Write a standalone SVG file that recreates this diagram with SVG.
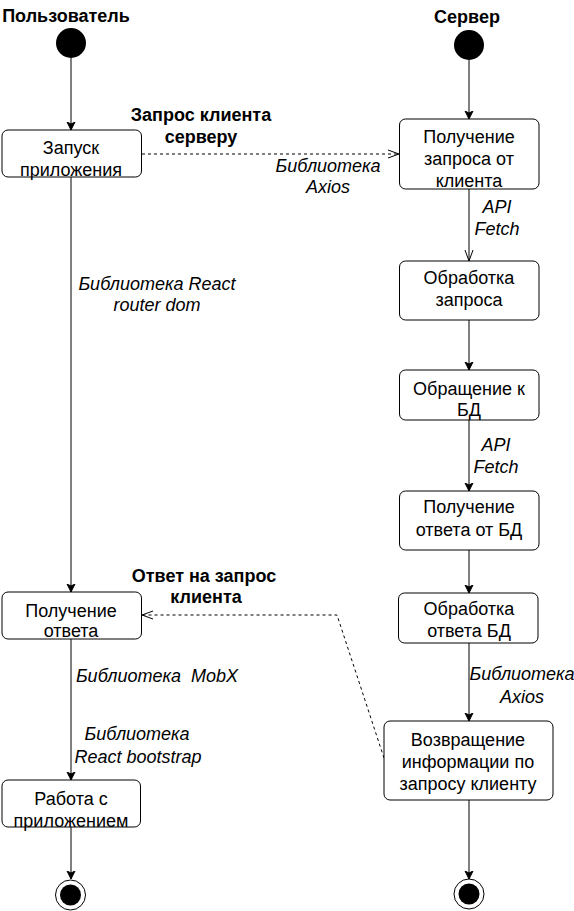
<svg xmlns="http://www.w3.org/2000/svg" width="574" height="911" viewBox="0 0 574 911">
<defs>
<style>
.box{fill:#fff;stroke:#000;stroke-width:1}
.t{font-family:"Liberation Sans",Arial,sans-serif;font-size:18px;fill:#000;text-anchor:middle}
.b{font-weight:bold}
.i{font-style:italic}
.c{fill:none;stroke:#000;stroke-width:1}
.d{stroke-dasharray:3 3}
</style>
<marker id="fa" markerWidth="10" markerHeight="10" refX="8" refY="5" orient="auto" markerUnits="userSpaceOnUse">
<path d="M0,1 L8,5 L0,9 L2,5 Z" fill="#000" stroke="#000" stroke-width="1"/>
</marker>
<marker id="oa" markerWidth="12" markerHeight="12" refX="11" refY="6" orient="auto" markerUnits="userSpaceOnUse">
<path d="M0,2 L11,6 L0,10" fill="none" stroke="#000" stroke-width="1"/>
</marker>
</defs>
<rect width="574" height="911" fill="#fff"/>

<g id="lane-titles">
<text class="t b" x="66" y="22">Пользователь</text>
<text class="t b" x="467" y="23">Сервер</text>
</g>

<g id="connectors">
<line class="c" x1="71" y1="58" x2="71" y2="130" marker-end="url(#fa)"/>
<line class="c" x1="71" y1="177" x2="71" y2="592" marker-end="url(#fa)"/>
<line class="c" x1="71" y1="639" x2="71" y2="780" marker-end="url(#fa)"/>
<line class="c" x1="71" y1="827" x2="71" y2="879" marker-end="url(#fa)"/>
<line class="c d" x1="142" y1="154" x2="399" y2="154" marker-end="url(#oa)"/>
<line class="c" x1="469" y1="60" x2="469" y2="119" marker-end="url(#fa)"/>
<line class="c" x1="469" y1="189" x2="469" y2="261" marker-end="url(#oa)"/>
<line class="c" x1="469" y1="320" x2="469" y2="370" marker-end="url(#fa)"/>
<line class="c" x1="469" y1="420" x2="469" y2="491" marker-end="url(#fa)"/>
<line class="c" x1="469" y1="550" x2="469" y2="593" marker-end="url(#fa)"/>
<line class="c" x1="469" y1="643" x2="469" y2="721" marker-end="url(#fa)"/>
<line class="c" x1="469" y1="800" x2="469" y2="879" marker-end="url(#fa)"/>
<polyline class="c d" points="384,758 337,615 142,615" marker-end="url(#oa)"/>
</g>

<g id="edge-labels">
<text class="t b" x="201" y="121">Запрос клиента</text>
<text class="t b" x="201" y="143">серверу</text>
<text class="t i" x="328" y="172">Библиотека</text>
<text class="t i" x="328" y="193">Axios</text>
<text class="t i" x="497" y="213">API</text>
<text class="t i" x="497" y="235">Fetch</text>
<text class="t i" x="157" y="290">Библиотека React</text>
<text class="t i" x="157" y="311">router dom</text>
<text class="t i" x="496" y="451">API</text>
<text class="t i" x="496" y="473">Fetch</text>
<text class="t b" x="204" y="582">Ответ на запрос</text>
<text class="t b" x="206" y="603">клиента</text>
<text class="t i" x="157" y="682" xml:space="preserve">Библиотека  MobX</text>
<text class="t i" x="522" y="680">Библиотека</text>
<text class="t i" x="522" y="703">Axios</text>
<text class="t i" x="137" y="740">Библиотека</text>
<text class="t i" x="138" y="763">React bootstrap</text>
</g>

<g id="start-user"><circle cx="71" cy="43" r="15" fill="#000"/></g>
<g id="start-server"><circle cx="469" cy="45" r="15" fill="#000"/></g>

<g id="launch">
<rect class="box" x="2" y="130" width="139.5" height="47" rx="6"/>
<text class="t" x="71" y="154">Запуск</text>
<text class="t" x="71" y="176">приложения</text>
</g>

<g id="get-request">
<rect class="box" x="399.5" y="119" width="139.5" height="70" rx="6"/>
<text class="t" x="469" y="143">Получение</text>
<text class="t" x="469" y="165">запроса от</text>
<text class="t" x="469" y="187">клиента</text>
</g>

<g id="process-request">
<rect class="box" x="399.5" y="261" width="139.5" height="59" rx="6"/>
<text class="t" x="469" y="284">Обработка</text>
<text class="t" x="469" y="306">запроса</text>
</g>

<g id="db-call">
<rect class="box" x="399.5" y="370" width="139.5" height="50" rx="6"/>
<text class="t" x="469" y="395">Обращение к</text>
<text class="t" x="469" y="416">БД</text>
</g>

<g id="db-answer">
<rect class="box" x="399.5" y="491" width="139.5" height="59" rx="6"/>
<text class="t" x="469" y="513">Получение</text>
<text class="t" x="469" y="536">ответа от БД</text>
</g>

<g id="process-answer">
<rect class="box" x="398.5" y="593" width="139.5" height="50" rx="6"/>
<text class="t" x="469" y="615">Обработка</text>
<text class="t" x="469" y="637">ответа БД</text>
</g>

<g id="return-info">
<rect class="box" x="384" y="721" width="169" height="79" rx="6"/>
<text class="t" x="468" y="746">Возвращение</text>
<text class="t" x="468" y="768">информации по</text>
<text class="t" x="468" y="790">запросу клиенту</text>
</g>

<g id="get-answer">
<rect class="box" x="2" y="592" width="139.5" height="47" rx="6"/>
<text class="t" x="71" y="617">Получение</text>
<text class="t" x="71" y="637">ответа</text>
</g>

<g id="work-app">
<rect class="box" x="2" y="780" width="138.5" height="47" rx="6"/>
<text class="t" x="71" y="805">Работа с</text>
<text class="t" x="71" y="827">приложением</text>
</g>

<g id="end-user">
<circle cx="70.5" cy="895" r="15" fill="#fff" stroke="#000" stroke-width="1"/>
<circle cx="70.5" cy="895" r="10.5" fill="#000"/>
</g>
<g id="end-server">
<circle cx="469" cy="894" r="15" fill="#fff" stroke="#000" stroke-width="1"/>
<circle cx="469" cy="894" r="10.5" fill="#000"/>
</g>
</svg>
